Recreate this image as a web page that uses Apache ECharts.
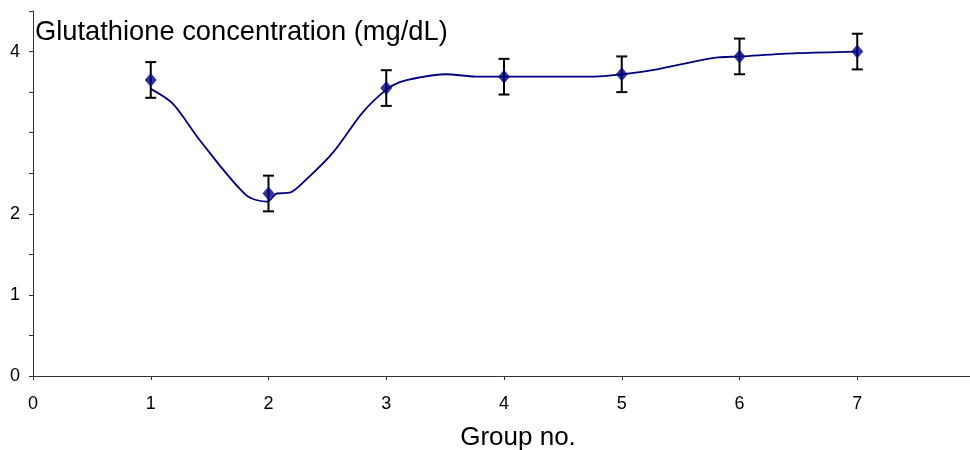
<!DOCTYPE html>
<html><head><meta charset="utf-8">
<script src="https://cdn.jsdelivr.net/npm/echarts@6/dist/echarts.min.js"></script>
<style>html,body{margin:0;padding:0;background:#fff}#c{width:970px;height:450px}</style>
</head><body><div id="c"></div>
<script>
// Data
var groups = [1, 2, 3, 4, 5, 6, 7];
var means = [3.65, 2.25, 3.55, 3.69, 3.72, 3.94, 4.00];
var errors = [0.22, 0.22, 0.22, 0.22, 0.22, 0.22, 0.22];
// Smoothed curve
var curveX = [1.0, 1.185, 1.415, 1.81, 1.99, 2.07, 2.18, 2.29, 2.545, 2.80, 3.0, 3.11, 3.28, 3.50, 3.79, 4.77, 5.01, 5.26, 5.77, 6.01, 6.49, 7.0];
var curveY = [3.54, 3.36, 2.91, 2.23, 2.15, 2.25, 2.26, 2.38, 2.75, 3.25, 3.53, 3.62, 3.68, 3.72, 3.69, 3.69, 3.72, 3.77, 3.92, 3.94, 3.98, 4.00];
var yLabels = [0, 1, 2, 4];
var titleText = 'Glutathione concentration (mg/dL)';
var xName = 'Group no.';

var chart = echarts.init(document.getElementById('c'));
var font = 'Liberation Sans, Arial, sans-serif';
chart.setOption({
  animation: false,
  title: {text: titleText, left: 30, top: 14,
    textStyle: {fontFamily: font, fontSize: 27.3, fontWeight: 'normal', color: '#000'}},
  grid: {left: 33, top: 11, width: 942, height: 365, outerBoundsMode: 'none', containLabel: false},
  xAxis: {type: 'value', min: 0, max: 8, interval: 1,
    name: xName, nameLocation: 'middle', nameGap: 49,
    nameTextStyle: {fontFamily: font, fontSize: 26, color: '#000', padding: [0, 0, 0, 28]},
    axisLine: {lineStyle: {color: '#333', width: 1}},
    axisTick: {show: true, length: 4, lineStyle: {color: '#333'}},
    axisLabel: {fontFamily: font, fontSize: 18, color: '#000', margin: 19,
      formatter: function (v) { return v <= 7 ? String(v) : ''; }},
    splitLine: {show: false}},
  yAxis: {type: 'value', min: 0, max: 4.5, interval: 0.5,
    axisLine: {show: true, lineStyle: {color: '#333', width: 1}},
    axisTick: {show: true, length: 4, lineStyle: {color: '#333'}},
    axisLabel: {fontFamily: font, fontSize: 18, color: '#000', margin: 13, showMaxLabel: true,
      formatter: function (v) { return yLabels.indexOf(v) >= 0 ? String(v) : ''; }},
    splitLine: {show: false}},
  series: [
    {type: 'line', smooth: 0.3, symbol: 'none',
      data: curveX.map(function (x, i) { return [x, curveY[i]]; }),
      lineStyle: {color: '#000080', width: 1.8}, z: 2},
    {type: 'custom',
      data: groups.map(function (g, i) { return [g, means[i] - errors[i], means[i] + errors[i]]; }),
      renderItem: function (params, api) {
        var lo = api.coord([api.value(0), api.value(1)]);
        var hi = api.coord([api.value(0), api.value(2)]);
        var w = 5.5;
        var st = {stroke: '#000', lineWidth: 2};
        return {type: 'group', children: [
          {type: 'line', shape: {x1: lo[0], y1: lo[1], x2: hi[0], y2: hi[1]}, style: st},
          {type: 'line', shape: {x1: lo[0] - w, y1: lo[1], x2: lo[0] + w, y2: lo[1]}, style: st},
          {type: 'line', shape: {x1: hi[0] - w, y1: hi[1], x2: hi[0] + w, y2: hi[1]}, style: st}
        ]};
      }, z: 3},
    {type: 'scatter', symbol: 'diamond', symbolSize: [12, 14],
      data: groups.map(function (g, i) { return [g, means[i]]; }),
      itemStyle: {color: '#000080'}, z: 4}
  ]
});
</script></body></html>
